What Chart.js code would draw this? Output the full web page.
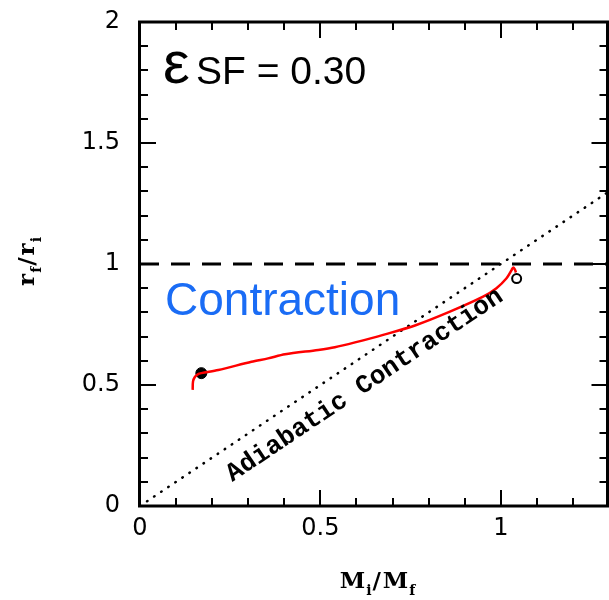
<!DOCTYPE html>
<html>
<head>
<meta charset="utf-8">
<script src="https://cdn.jsdelivr.net/npm/chart.js@4"></script>
<style>
  body { margin: 0; background: #fff; }
  #wrap { width: 609px; height: 600px; }
</style>
</head>
<body>
<div id="wrap"><canvas id="ratio-chart" width="609" height="600"></canvas></div>
<script>
// track of r_f/r_i against M_i/M_f
let trackX = [0.146, 0.147, 0.152, 0.160, 0.170, 0.217, 0.309, 0.355, 0.402, 0.494, 0.540, 0.596, 0.674, 0.766, 0.859, 0.951, 0.988, 1.016, 1.030, 1.034, 1.039, 1.042];
let trackY = [0.480, 0.515, 0.533, 0.544, 0.549, 0.562, 0.596, 0.610, 0.627, 0.645, 0.656, 0.676, 0.707, 0.748, 0.803, 0.865, 0.900, 0.941, 0.975, 0.985, 0.978, 0.965];
let startPoint = [0.170, 0.549];
let endPoint = [1.044, 0.940];
let adiabaticX = [0, 1.3];
let adiabaticY = [0, 1.3];
let unityX = [0, 1.3];
let unityY = [1, 1];

let xTicks = [0, 0.5, 1];
let yTicks = [0, 0.5, 1, 1.5, 2];
let xRange = [0, 1.3];
let yRange = [0, 2];

const toPoints = (xs, ys) => xs.map((x, i) => ({ x: x, y: ys[i] }));

// frame, inward ticks, axis titles and text labels
const decorations = {
    id: 'decorations',
    afterDatasetsDraw(chart) {
        const ctx = chart.ctx;
        const area = chart.chartArea;
        const xs = chart.scales.x;
        const ys = chart.scales.y;
        ctx.save();

        // frame
        ctx.strokeStyle = '#000';
        ctx.lineWidth = 3;
        ctx.strokeRect(area.left - 0.5, area.top, area.right - area.left - 1, area.bottom - area.top);

        // ticks every 0.1, longer on the labelled values
        ctx.lineWidth = 2;
        for (let i = 0; i <= Math.round(xRange[1] * 10); i++) {
            const v = i / 10;
            const len = xTicks.some(t => Math.abs(t - v) < 1e-6) ? 16 : 8;
            const px = Math.round(xs.getPixelForValue(v));
            ctx.beginPath();
            ctx.moveTo(px, area.bottom); ctx.lineTo(px, area.bottom - len);
            ctx.moveTo(px, area.top); ctx.lineTo(px, area.top + len);
            ctx.stroke();
        }
        for (let i = 0; i <= Math.round(yRange[1] * 10); i++) {
            const v = i / 10;
            const len = yTicks.some(t => Math.abs(t - v) < 1e-6) ? 16 : 8;
            const py = Math.round(ys.getPixelForValue(v));
            ctx.beginPath();
            ctx.moveTo(area.left, py); ctx.lineTo(area.left + len, py);
            ctx.moveTo(area.right - 1.5, py); ctx.lineTo(area.right - 1.5 - len, py);
            ctx.stroke();
        }

        ctx.fillStyle = '#000';
        ctx.textBaseline = 'alphabetic';

        // x title  M_i / M_f
        drawSubscripted(ctx, [['M', 'i'], ['/', ''], ['M', 'f']], 375, 588, 0);
        // y title  r_f / r_i
        drawSubscripted(ctx, [['r', 'f'], ['/', ''], ['r', 'i']], 34, 264, -Math.PI / 2);

        // efficiency label
        ctx.textAlign = 'left';
        ctx.font = '60px "Liberation Sans"';
        ctx.fillText('\u03B5', 163, 83);
        ctx.font = '39px "Liberation Sans"';
        ctx.fillText('SF = 0.30', 196, 84);

        // region label
        ctx.fillStyle = '#1a6cf5';
        ctx.font = '46px "Liberation Sans"';
        ctx.fillText('Contraction', 165, 315);

        // label along the adiabatic line
        const ax = xs.getPixelForValue(0.256);
        const ay = ys.getPixelForValue(0.099);
        const slope = (ys.getPixelForValue(0) - ys.getPixelForValue(1)) / (xs.getPixelForValue(1) - xs.getPixelForValue(0));
        ctx.translate(ax, ay);
        ctx.rotate(-Math.atan(slope));
        ctx.fillStyle = '#000';
        ctx.font = 'bold 26px "Liberation Mono"';
        ctx.fillText('Adiabatic Contraction', 0, 0);
        ctx.restore();
    }
};

function drawSubscripted(ctx, parts, cx, cy, angle) {
    const big = 'bold 23px "DejaVu Serif"';
    const small = 'bold 14px "DejaVu Serif"';
    let total = 0;
    parts.forEach(p => {
        ctx.font = big; total += ctx.measureText(p[0]).width;
        ctx.font = small; total += ctx.measureText(p[1]).width;
    });
    ctx.save();
    ctx.translate(cx, cy);
    ctx.rotate(angle);
    ctx.textAlign = 'left';
    let x = -total / 2;
    parts.forEach(p => {
        ctx.font = big; ctx.fillText(p[0], x, 0); x += ctx.measureText(p[0]).width + 1;
        ctx.font = small; ctx.fillText(p[1], x, 7); x += ctx.measureText(p[1]).width + 1;
    });
    ctx.restore();
}

const tickFont = { family: 'DejaVu Sans', size: 24 };

const chart = new Chart(document.getElementById('ratio-chart').getContext('2d'), {
    type: 'scatter',
    data: {
        datasets: [
            {
                data: toPoints(trackX, trackY),
                showLine: true,
                borderColor: '#ff0000',
                borderWidth: 2.5,
                pointRadius: 0,
                tension: 0.3
            },
            {
                data: toPoints(adiabaticX, adiabaticY),
                showLine: true,
                borderColor: '#000',
                borderWidth: 2.5,
                borderDash: [0.5, 8],
                borderCapStyle: 'round',
                pointRadius: 0
            },
            {
                data: toPoints(unityX, unityY),
                showLine: true,
                borderColor: '#000',
                borderWidth: 3,
                borderDash: [19, 12],
                pointRadius: 0
            },
            {
                data: [{ x: startPoint[0], y: startPoint[1] }],
                pointRadius: 5.5,
                backgroundColor: '#000',
                borderColor: '#000'
            },
            {
                data: [{ x: endPoint[0], y: endPoint[1] }],
                pointRadius: 4.5,
                borderWidth: 2,
                backgroundColor: 'rgba(0,0,0,0)',
                borderColor: '#000'
            }
        ]
    },
    options: {
        responsive: false,
        animation: false,
        layout: { autoPadding: false, padding: { top: 22, right: 0, left: 0, bottom: 0 } },
        plugins: { legend: { display: false }, tooltip: { enabled: false } },
        scales: {
            x: {
                type: 'linear',
                min: xRange[0],
                max: xRange[1],
                afterBuildTicks: axis => { axis.ticks = xTicks.map(v => ({ value: v })); },
                afterFit: axis => { axis.height = 94; axis.paddingLeft = 0; axis.paddingRight = 0; },
                grid: { display: false, drawTicks: false },
                border: { display: false },
                ticks: { font: tickFont, color: '#000', padding: 8, maxRotation: 0, callback: v => String(v) }
            },
            y: {
                type: 'linear',
                min: yRange[0],
                max: yRange[1],
                afterBuildTicks: axis => { axis.ticks = yTicks.map(v => ({ value: v })); },
                afterFit: axis => { axis.width = 140; axis.paddingTop = 0; axis.paddingBottom = 0; },
                grid: { display: false, drawTicks: false },
                border: { display: false },
                ticks: { font: tickFont, color: '#000', padding: 20, callback: v => String(v) }
            }
        }
    },
    plugins: [decorations]
});
</script>
</body>
</html>
